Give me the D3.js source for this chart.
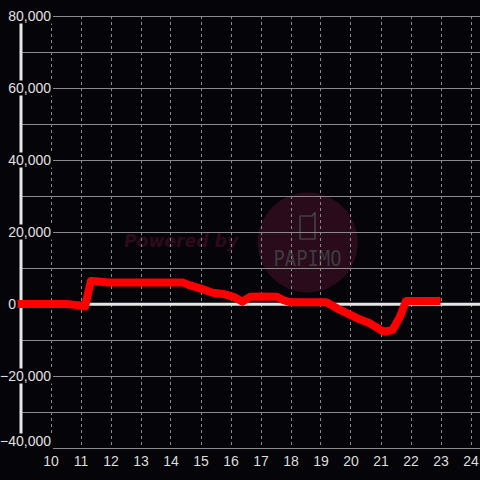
<!DOCTYPE html>
<html><head><meta charset="utf-8">
<script src="https://cdn.jsdelivr.net/npm/d3@7"></script>
<style>html,body{margin:0;padding:0;background:#050408;}svg{display:block;}</style>
</head><body>
<svg id="chart" width="480" height="480"></svg>
<script>
const hours = [8.9, 10.5, 10.65, 11.0, 11.15, 11.35, 11.6, 11.9, 14.4, 14.6, 14.98, 15.4, 15.75, 16.1, 16.4, 16.65, 17.0, 17.55, 17.75, 18.0, 19.2, 19.65, 20.0, 20.3, 20.65, 21.0, 21.15, 21.4, 21.65, 21.85, 23.0];
const values = [0, 0, -100, -400, -700, 6400, 6250, 6000, 6000, 5300, 4350, 3100, 2800, 2000, 650, 2000, 2100, 2000, 1100, 470, 470, -1650, -3050, -4250, -5350, -7200, -7700, -7200, -3500, 830, 830];
const xTicks = [10, 11, 12, 13, 14, 15, 16, 17, 18, 19, 20, 21, 22, 23, 24];
const yMajorTicks = [80000, 60000, 40000, 20000, 0, -20000, -40000];
const yMinorTicks = [70000, 50000, 30000, 10000, -10000, -30000];

const svg = d3.select("#chart");
const x = d3.scaleLinear().domain([9, 24]).range([20.5, 470.5]);
const y = d3.scaleLinear().domain([-40000, 80000]).range([448, 16]);

svg.append("rect").attr("width", 480).attr("height", 480).attr("fill", "#050408");

// watermark
const wm = svg.append("g");
wm.append("circle").attr("cx", 307.7).attr("cy", 242.5).attr("r", 50).attr("fill", "#2a0b1b");
wm.append("path")
  .attr("d", "M300,216 h12 l3,-3.5 v26.5 h-15 z")
  .attr("fill", "none").attr("stroke", "#454045").attr("stroke-width", 1.6).attr("stroke-linejoin", "round");
wm.append("text").attr("x", 273.5).attr("y", 266).attr("textLength", 68).attr("lengthAdjust", "spacingAndGlyphs")
  .attr("font-family", "DejaVu Sans Mono").attr("font-size", 22).attr("fill", "#3e3b3e").text("PAPIMO");
wm.append("text").attr("x", 124).attr("y", 247).attr("textLength", 114).attr("lengthAdjust", "spacingAndGlyphs")
  .attr("font-family", "DejaVu Sans").attr("font-weight", "bold").attr("font-style", "italic")
  .attr("font-size", 17).attr("fill", "#2e0a1c").text("Powered by");

// vertical dashed grid
svg.append("g").selectAll("line").data(xTicks).join("line")
  .attr("x1", d => Math.round(x(d)) + 0.5).attr("x2", d => Math.round(x(d)) + 0.5)
  .attr("y1", y(80000)).attr("y2", y(-40000))
  .attr("stroke", "#8a8a8a").attr("stroke-width", 1).attr("stroke-dasharray", "3,3");

// horizontal grid
svg.append("g").selectAll("line").data(yMajorTicks.concat(yMinorTicks).filter(d => d !== 0)).join("line")
  .attr("x1", 21).attr("x2", 480)
  .attr("y1", d => y(d) + 0.5).attr("y2", d => y(d) + 0.5)
  .attr("stroke", "#8a8a8a").attr("stroke-width", 1);

// left axis bar
svg.append("line").attr("x1", 21).attr("x2", 21).attr("y1", y(80000)).attr("y2", y(-40000))
  .attr("stroke", "#e6e6e6").attr("stroke-width", 3);

// zero line
svg.append("line").attr("x1", 21).attr("x2", 480).attr("y1", y(0) + 0.3).attr("y2", y(0) + 0.3)
  .attr("stroke", "#e6e6e6").attr("stroke-width", 3);

// y labels with background
const labelY = d => d === -40000 ? y(d) - 7 : y(d);
const labelX = d => d === 0 ? 16 : 51;
const yl = svg.append("g").selectAll("g").data(yMajorTicks).join("g");
yl.filter(d => d !== 0).append("rect").attr("x", 0).attr("y", d => labelY(d) - 7.5).attr("width", 53)
  .attr("height", d => d === -40000 ? 30 : 15).attr("fill", "#050408");
yl.append("text").attr("x", labelX).attr("y", d => labelY(d) + 5).attr("text-anchor", "end")
  .attr("font-family", "Liberation Sans, Arial, sans-serif").attr("font-size", 14).attr("fill", "#e0e0e0")
  .text(d => d3.format(",")(d));

// x labels
svg.append("g").selectAll("text").data(xTicks).join("text")
  .attr("x", d => x(d) + 0.5).attr("y", 466).attr("text-anchor", "middle")
  .attr("font-family", "Liberation Sans, Arial, sans-serif").attr("font-size", 14).attr("fill", "#dcdcdc")
  .text(d => d);

// data line
const pts = hours.map((h, i) => [h, values[i]]);
svg.append("path").datum(pts)
  .attr("d", d3.line().x(d => x(d[0])).y(d => y(d[1])))
  .attr("fill", "none").attr("stroke", "#ff0000").attr("stroke-width", 8).attr("stroke-linejoin", "round");
</script>
</body></html>
